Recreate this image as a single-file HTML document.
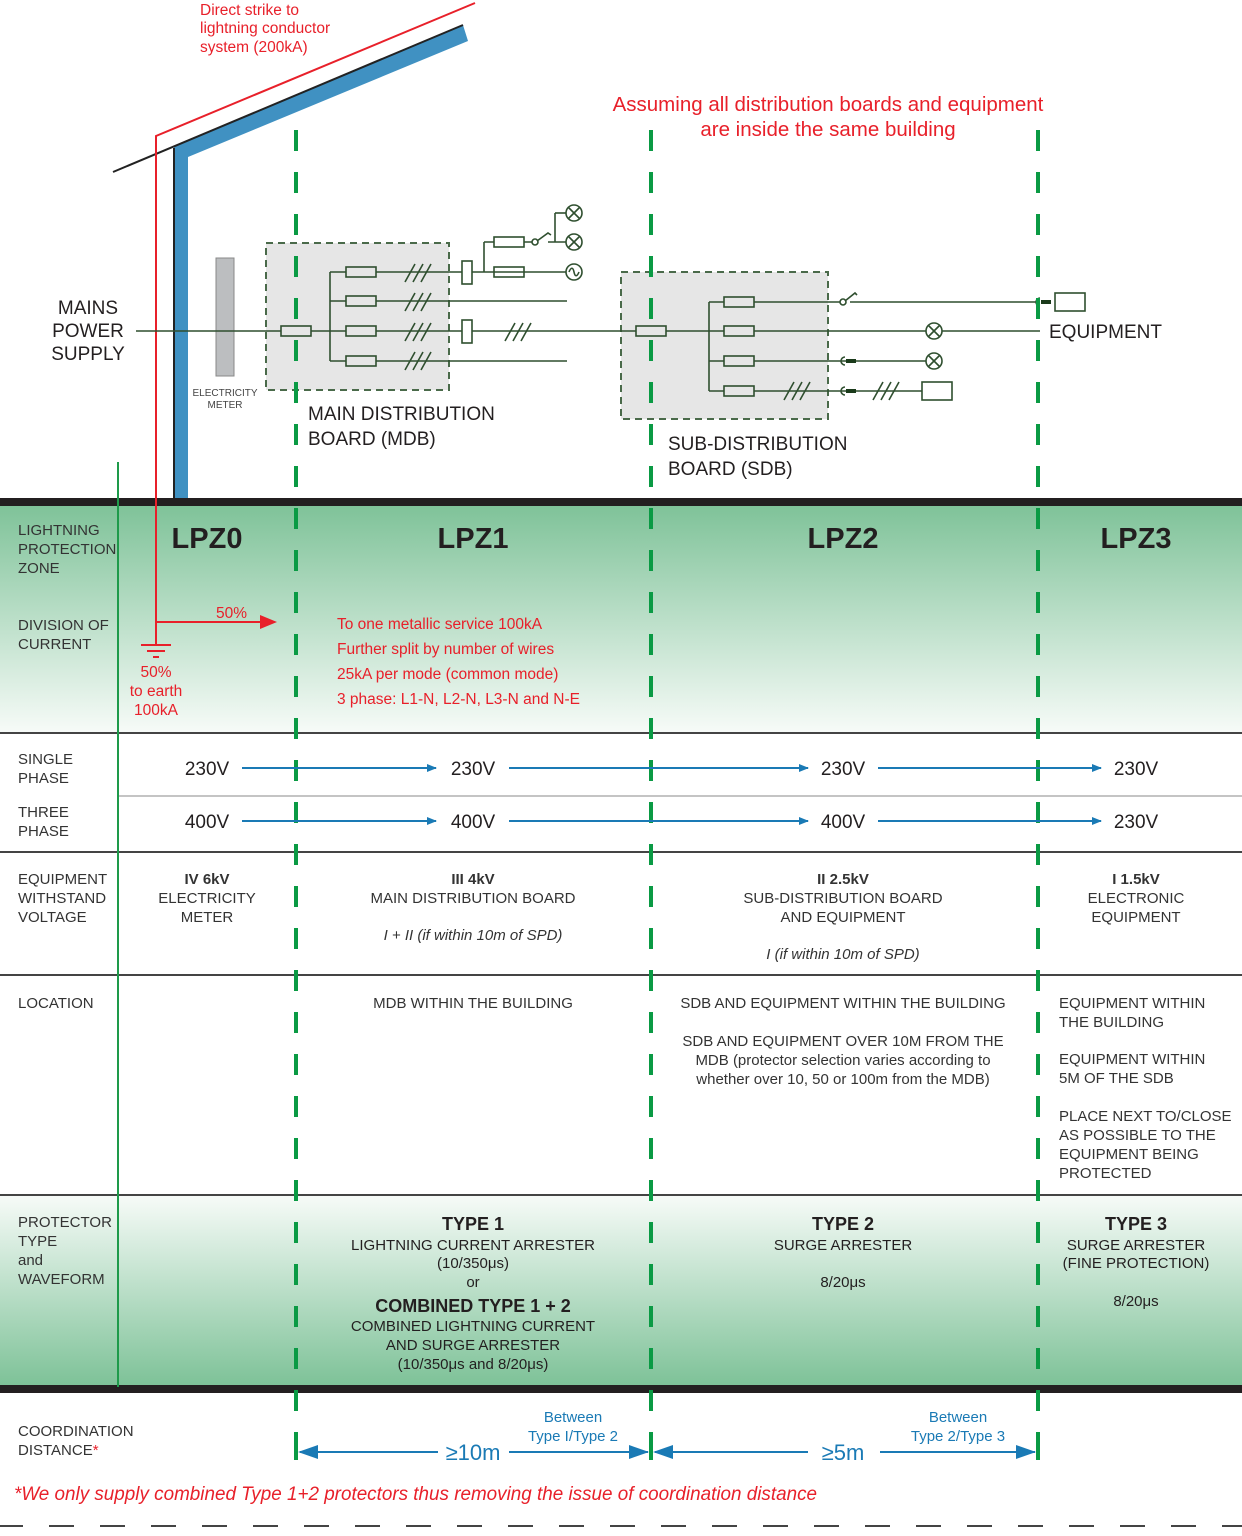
<!DOCTYPE html>
<html><head><meta charset="utf-8"><style>
html,body{margin:0;padding:0;background:#fff}
svg{display:block}
text{font-family:"Liberation Sans",sans-serif}
</style></head><body>
<svg width="1242" height="1536" viewBox="0 0 1242 1536" xmlns="http://www.w3.org/2000/svg">
<defs>
<linearGradient id="g1" x1="0" y1="0" x2="0" y2="1"><stop offset="0" stop-color="#7ec298"/><stop offset="1" stop-color="#f7fbf8"/></linearGradient>
<linearGradient id="g2" x1="0" y1="0" x2="0" y2="1"><stop offset="0" stop-color="#f7fbf8"/><stop offset="1" stop-color="#7ec298"/></linearGradient>
<marker id="ab" markerWidth="10" markerHeight="8" refX="9" refY="4" orient="auto" markerUnits="userSpaceOnUse"><path d="M0,0L10,4L0,8z" fill="#1a7ab5"/></marker>
</defs>
<rect x="0" y="504" width="1242" height="229" fill="url(#g1)"/>
<rect x="0" y="1195" width="1242" height="190" fill="url(#g2)"/>
<rect x="0" y="498" width="1242" height="8" fill="#231f20"/>
<rect x="0" y="1385" width="1242" height="8" fill="#231f20"/>
<g stroke="#444" stroke-width="2">
<line x1="0" y1="733" x2="1242" y2="733"/>
<line x1="0" y1="852" x2="1242" y2="852"/>
<line x1="0" y1="975" x2="1242" y2="975"/>
<line x1="0" y1="1195" x2="1242" y2="1195"/>
</g>
<line x1="118" y1="796" x2="1242" y2="796" stroke="#888" stroke-width="1"/>
<line x1="118" y1="462" x2="118" y2="1387" stroke="#1e9a4a" stroke-width="2"/>

<polygon points="174,147 463,25 468,41 188,157 188,498 174,498" fill="#4091c2"/>
<line x1="113" y1="172" x2="463" y2="25" stroke="#222" stroke-width="2"/>
<line x1="174" y1="148" x2="174" y2="498" stroke="#222" stroke-width="2"/>
<polyline points="475,3 156,136 156,622" fill="none" stroke="#e8202a" stroke-width="2"/>
<line x1="156" y1="622" x2="262" y2="622" stroke="#e8202a" stroke-width="2"/>
<path d="M260,615L277,622L260,629z" fill="#e8202a"/>
<g stroke="#e8202a" stroke-width="2"><line x1="156" y1="622" x2="156" y2="645"/><line x1="141" y1="645" x2="171" y2="645"/><line x1="147" y1="651" x2="165" y2="651"/><line x1="153" y1="657" x2="159" y2="657"/></g>
<g fill="#e8202a" font-size="15.5"><text x="200" y="15">Direct strike to</text><text x="200" y="33">lightning conductor</text><text x="200" y="52">system (200kA)</text>
<text x="216" y="618">50%</text>
<text x="156" y="677" text-anchor="middle">50%</text><text x="156" y="696" text-anchor="middle">to earth</text><text x="156" y="715" text-anchor="middle">100kA</text></g>
<g fill="#e8202a" font-size="20.5" text-anchor="middle"><text x="828" y="111">Assuming all distribution boards and equipment</text><text x="828" y="136">are inside the same building</text></g>

<rect x="266" y="243" width="183" height="147" fill="#e6e6e6" stroke="#4a6a4a" stroke-width="2" stroke-dasharray="7 5"/>
<rect x="621" y="272" width="207" height="147" fill="#e6e6e6" stroke="#4a6a4a" stroke-width="2" stroke-dasharray="7 5"/>
<rect x="216" y="258" width="18" height="118" fill="#bcbec0" stroke="#888" stroke-width="1"/>
<text x="225" y="396" font-size="10" fill="#444" text-anchor="middle">ELECTRICITY</text><text x="225" y="408" font-size="10" fill="#444" text-anchor="middle">METER</text>
<g stroke="#2f4f2f" stroke-width="1.6" fill="none">
<line x1="136" y1="331" x2="1040" y2="331"/>
<line x1="330" y1="272" x2="330" y2="361"/>
<line x1="330" y1="272" x2="484" y2="272"/><line x1="330" y1="301" x2="567" y2="301"/><line x1="330" y1="361" x2="567" y2="361"/>
<rect x="281" y="326" width="30" height="10" fill="#e6e6e6"/>
<rect x="346" y="267" width="30" height="10" fill="#e6e6e6"/><rect x="346" y="296" width="30" height="10" fill="#e6e6e6"/><rect x="346" y="326" width="30" height="10" fill="#e6e6e6"/><rect x="346" y="356" width="30" height="10" fill="#e6e6e6"/>
<path d="M405,282l10,-18M413,282l10,-18M421,282l10,-18M405,311l10,-18M413,311l10,-18M421,311l10,-18M405,341l10,-18M413,341l10,-18M421,341l10,-18M405,370l10,-18M413,370l10,-18M421,370l10,-18M505,341l10,-18M513,341l10,-18M521,341l10,-18"/>
<rect x="462" y="261" width="10" height="23" fill="#fff"/><rect x="462" y="320" width="10" height="23" fill="#fff"/>
<line x1="484" y1="242" x2="484" y2="272"/><line x1="484" y1="242" x2="535" y2="242"/>
<rect x="494" y="237" width="30" height="10" fill="#fff"/><rect x="494" y="267" width="30" height="10" fill="#fff"/>
<line x1="484" y1="272" x2="566" y2="272"/>
<circle cx="535" cy="242" r="3" fill="#fff"/><path d="M537,241l11,-8l3,2"/>
<line x1="555" y1="213" x2="555" y2="242"/><line x1="555" y1="213" x2="566" y2="213"/><line x1="548" y1="242" x2="566" y2="242"/>
<circle cx="574" cy="213" r="8" fill="#fff"/><path d="M568,207l12,12M580,207l-12,12"/>
<circle cx="574" cy="242" r="8" fill="#fff"/><path d="M568,236l12,12M580,236l-12,12"/>
<circle cx="574" cy="272" r="8" fill="#fff"/><path d="M569,272c2,-5 4,-5 5,0c1,5 3,5 5,0"/>
<rect x="636" y="326" width="30" height="10" fill="#e6e6e6"/>
<line x1="709" y1="302" x2="709" y2="391"/>
<line x1="709" y1="302" x2="842" y2="302"/><line x1="850" y1="302" x2="1040" y2="302"/>
<line x1="709" y1="361" x2="926" y2="361"/><line x1="709" y1="391" x2="922" y2="391"/>
<rect x="724" y="297" width="30" height="10" fill="#e6e6e6"/><rect x="724" y="326" width="30" height="10" fill="#e6e6e6"/><rect x="724" y="356" width="30" height="10" fill="#e6e6e6"/><rect x="724" y="386" width="30" height="10" fill="#e6e6e6"/>
<circle cx="843" cy="302" r="3" fill="#fff"/><path d="M845,301l10,-8l2,2"/>
<path d="M784,400l10,-18M792,400l10,-18M800,400l10,-18M873,400l10,-18M881,400l10,-18M889,400l10,-18"/>
<circle cx="934" cy="331" r="8" fill="#fff"/><path d="M928,325l12,12M940,325l-12,12"/>
<circle cx="934" cy="361" r="8" fill="#fff"/><path d="M928,355l12,12M940,355l-12,12"/>
<rect x="922" y="382" width="30" height="18" fill="#fff"/>
<rect x="1055" y="293" width="30" height="18" fill="#fff"/>
<path d="M845,357a4,4 0 0 0 0,8M845,387a4,4 0 0 0 0,8M1040,298a4,4 0 0 0 0,8"/>
</g>
<g fill="#1a3a1a"><rect x="846" y="359" width="10" height="4"/><rect x="846" y="389" width="10" height="4"/><rect x="1041" y="300" width="10" height="4"/></g>
<g fill="#231f20" font-size="19">
<text x="88" y="314" text-anchor="middle">MAINS</text><text x="88" y="337" text-anchor="middle">POWER</text><text x="88" y="360" text-anchor="middle">SUPPLY</text>
<text x="308" y="420">MAIN DISTRIBUTION</text><text x="308" y="445">BOARD (MDB)</text>
<text x="668" y="450">SUB-DISTRIBUTION</text><text x="668" y="475">BOARD (SDB)</text>
<text x="1049" y="338">EQUIPMENT</text></g>

<g stroke="#0a9a44" stroke-width="4" stroke-dasharray="21 21">
<line x1="296" y1="130" x2="296" y2="1460"/><line x1="651" y1="130" x2="651" y2="1460"/><line x1="1038" y1="130" x2="1038" y2="1460"/>
</g>

<g fill="#333" font-size="15">
<text x="18" y="535">LIGHTNING</text><text x="18" y="554">PROTECTION</text><text x="18" y="573">ZONE</text>
<text x="18" y="630">DIVISION OF</text><text x="18" y="649">CURRENT</text>
<text x="18" y="764">SINGLE</text><text x="18" y="783">PHASE</text>
<text x="18" y="817">THREE</text><text x="18" y="836">PHASE</text>
<text x="18" y="884">EQUIPMENT</text><text x="18" y="903">WITHSTAND</text><text x="18" y="922">VOLTAGE</text>
<text x="18" y="1008">LOCATION</text>
<text x="18" y="1227">PROTECTOR</text><text x="18" y="1246">TYPE</text><text x="18" y="1265">and</text><text x="18" y="1284">WAVEFORM</text>
<text x="18" y="1436">COORDINATION</text><text x="18" y="1455">DISTANCE<tspan fill="#e8202a">*</tspan></text>
</g>
<g fill="#231f20" font-size="29" font-weight="bold" text-anchor="middle">
<text x="207" y="548">LPZ0</text><text x="473" y="548">LPZ1</text><text x="843" y="548">LPZ2</text><text x="1136" y="548">LPZ3</text></g>
<g fill="#e8202a" font-size="15.5"><text x="337" y="629">To one metallic service 100kA</text><text x="337" y="654">Further split by number of wires</text><text x="337" y="679">25kA per mode (common mode)</text><text x="337" y="704">3 phase: L1-N, L2-N, L3-N and N-E</text></g>

<g fill="#231f20" font-size="19" text-anchor="middle">
<text x="207" y="775">230V</text><text x="473" y="775">230V</text><text x="843" y="775">230V</text><text x="1136" y="775">230V</text>
<text x="207" y="828">400V</text><text x="473" y="828">400V</text><text x="843" y="828">400V</text><text x="1136" y="828">230V</text></g>
<g stroke="#1a7ab5" stroke-width="2" marker-end="url(#ab)">
<line x1="242" y1="768" x2="436" y2="768"/><line x1="509" y1="768" x2="808" y2="768"/><line x1="878" y1="768" x2="1101" y2="768"/>
<line x1="242" y1="821" x2="436" y2="821"/><line x1="509" y1="821" x2="808" y2="821"/><line x1="878" y1="821" x2="1101" y2="821"/></g>

<g fill="#333" font-size="15" text-anchor="middle">
<text x="207" y="884" font-weight="bold">IV 6kV</text><text x="207" y="903">ELECTRICITY</text><text x="207" y="922">METER</text>
<text x="473" y="884" font-weight="bold">III 4kV</text><text x="473" y="903">MAIN DISTRIBUTION BOARD</text><text x="473" y="940" font-style="italic">I + II (if within 10m of SPD)</text>
<text x="843" y="884" font-weight="bold">II 2.5kV</text><text x="843" y="903">SUB-DISTRIBUTION BOARD</text><text x="843" y="922">AND EQUIPMENT</text><text x="843" y="959" font-style="italic">I (if within 10m of SPD)</text>
<text x="1136" y="884" font-weight="bold">I 1.5kV</text><text x="1136" y="903">ELECTRONIC</text><text x="1136" y="922">EQUIPMENT</text>
<text x="473" y="1008">MDB WITHIN THE BUILDING</text>
<text x="843" y="1008">SDB AND EQUIPMENT WITHIN THE BUILDING</text>
<text x="843" y="1046">SDB AND EQUIPMENT OVER 10M FROM THE</text><text x="843" y="1065">MDB (protector selection varies according to</text><text x="843" y="1084">whether over 10, 50 or 100m from the MDB)</text>
</g>
<g fill="#333" font-size="15">
<text x="1059" y="1008">EQUIPMENT WITHIN</text><text x="1059" y="1027">THE BUILDING</text>
<text x="1059" y="1064">EQUIPMENT WITHIN</text><text x="1059" y="1083">5M OF THE SDB</text>
<text x="1059" y="1121">PLACE NEXT TO/CLOSE</text><text x="1059" y="1140">AS POSSIBLE TO THE</text><text x="1059" y="1159">EQUIPMENT BEING</text><text x="1059" y="1178">PROTECTED</text></g>

<g fill="#231f20" font-size="15" text-anchor="middle">
<text x="473" y="1230" font-size="18" font-weight="bold">TYPE 1</text><text x="473" y="1250">LIGHTNING CURRENT ARRESTER</text><text x="473" y="1268">(10/350μs)</text><text x="473" y="1287">or</text>
<text x="473" y="1312" font-size="18" font-weight="bold">COMBINED TYPE 1 + 2</text><text x="473" y="1331">COMBINED LIGHTNING CURRENT</text><text x="473" y="1350">AND SURGE ARRESTER</text><text x="473" y="1369">(10/350μs and 8/20μs)</text>
<text x="843" y="1230" font-size="18" font-weight="bold">TYPE 2</text><text x="843" y="1250">SURGE ARRESTER</text><text x="843" y="1287">8/20μs</text>
<text x="1136" y="1230" font-size="18" font-weight="bold">TYPE 3</text><text x="1136" y="1250">SURGE ARRESTER</text><text x="1136" y="1268">(FINE PROTECTION)</text><text x="1136" y="1306">8/20μs</text></g>

<g stroke="#1a7ab5" stroke-width="2">
<line x1="300" y1="1452" x2="438" y2="1452"/><line x1="509" y1="1452" x2="648" y2="1452"/>
<line x1="655" y1="1452" x2="808" y2="1452"/><line x1="880" y1="1452" x2="1035" y2="1452"/></g>
<g fill="#1a7ab5"><path d="M298,1452l20,-7v14z"/><path d="M649,1452l-20,-7v14z"/><path d="M653,1452l20,-7v14z"/><path d="M1036,1452l-20,-7v14z"/>
<text x="473" y="1460" font-size="22" text-anchor="middle">≥10m</text><text x="843" y="1460" font-size="22" text-anchor="middle">≥5m</text>
<g font-size="15" text-anchor="middle"><text x="573" y="1422">Between</text><text x="573" y="1441">Type I/Type 2</text><text x="958" y="1422">Between</text><text x="958" y="1441">Type 2/Type 3</text></g></g>
<g fill="#0a9a44"><rect x="294" y="1448" width="4" height="12"/><rect x="649" y="1448" width="4" height="12"/><rect x="1036" y="1448" width="4" height="12"/></g>
<text x="14" y="1500" fill="#e8202a" font-size="19" font-style="italic" textLength="803" lengthAdjust="spacingAndGlyphs">*We only supply combined Type 1+2 protectors thus removing the issue of coordination distance</text>
<line x1="-2" y1="1526" x2="1242" y2="1526" stroke="#444" stroke-width="2" stroke-dasharray="25 26"/>
</svg>
</body></html>
